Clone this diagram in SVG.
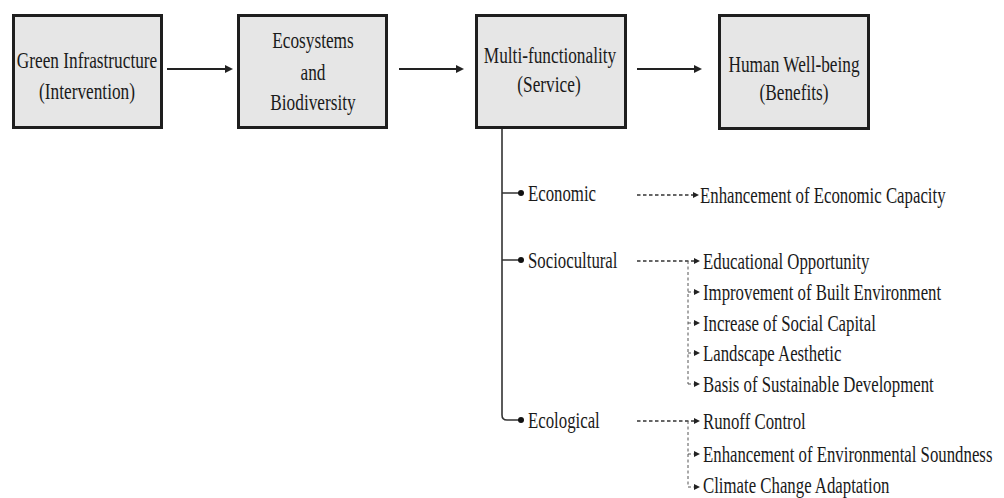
<svg xmlns="http://www.w3.org/2000/svg" width="1004" height="498" viewBox="0 0 1004 498">
<defs>
<style>
.box{fill:#e6e6e6;stroke:#1e1e1e;stroke-width:3}
.bt{font-family:"Liberation Serif","Times New Roman",serif;font-size:24px;fill:#1a1a1a;text-anchor:middle}
.lt{font-family:"Liberation Serif","Times New Roman",serif;font-size:23px;fill:#1a1a1a}
.solid{stroke:#222;stroke-width:2;fill:none}
.tree{stroke:#333;stroke-width:1.6;fill:none}
.dash{stroke:#333;stroke-width:1.3;fill:none;stroke-dasharray:3.5 2.5}
.dashv{stroke:#555;stroke-width:1;fill:none;stroke-dasharray:3 2.5}
</style>
<marker id="ah" markerUnits="userSpaceOnUse" markerWidth="9" markerHeight="8" refX="0" refY="4" orient="auto" overflow="visible">
<path d="M0,0 L8,4 L0,8 z" fill="#222"/>
</marker>
<marker id="sh" markerUnits="userSpaceOnUse" markerWidth="7" markerHeight="6" refX="0" refY="3" orient="auto" overflow="visible">
<path d="M0,0 L6,3 L0,6 z" fill="#222"/>
</marker>
</defs>
<rect width="1004" height="498" fill="#ffffff"/>

<g id="connectors">
<line class="solid" x1="167" y1="69" x2="225" y2="69" marker-end="url(#ah)"/>
<line class="solid" x1="399" y1="69" x2="456" y2="69" marker-end="url(#ah)"/>
<line class="solid" x1="637" y1="69" x2="694" y2="69" marker-end="url(#ah)"/>
<path class="tree" d="M502,129 V415 Q502,420 507,420 H519 M502,193 H519 M502,260 H519"/>
<circle cx="521" cy="193" r="3" fill="#111"/>
<circle cx="521" cy="260" r="3" fill="#111"/>
<circle cx="521" cy="420" r="3" fill="#111"/>
<line class="dash" x1="637" y1="195" x2="693" y2="195" marker-end="url(#sh)"/>
<line class="dash" x1="637" y1="261" x2="694" y2="261" marker-end="url(#sh)"/>
<path class="dashv" d="M688,261 V384 M688,292 H694 M688,323 H694 M688,353 H694 M688,384 H694"/>
<line class="dash" x1="637" y1="421" x2="694" y2="421" marker-end="url(#sh)"/>
<path class="dashv" d="M688,421 V487 M688,454 H694 M688,487 H694"/>
<g fill="#222">
<path d="M694,289 L700,292 L694,295 z"/>
<path d="M694,320 L700,323 L694,326 z"/>
<path d="M694,350 L700,353 L694,356 z"/>
<path d="M694,381 L700,384 L694,387 z"/>
<path d="M694,451 L700,454 L694,457 z"/>
<path d="M694,484 L700,487 L694,490 z"/>
</g>
</g>

<g id="node-green-infrastructure">
<rect class="box" x="13.5" y="15.5" width="148" height="112"/>
<text class="bt" transform="translate(87,68) scale(0.72,1)">Green Infrastructure</text>
<text class="bt" transform="translate(87,99) scale(0.72,1)">(Intervention)</text>
</g>
<g id="node-ecosystems">
<rect class="box" x="238.5" y="15.5" width="148" height="112"/>
<text class="bt" transform="translate(313,48) scale(0.72,1)">Ecosystems</text>
<text class="bt" transform="translate(313,80) scale(0.72,1)">and</text>
<text class="bt" transform="translate(313,110) scale(0.72,1)">Biodiversity</text>
</g>
<g id="node-multifunctionality">
<rect class="box" x="476.5" y="15.5" width="149" height="112"/>
<text class="bt" transform="translate(550,63) scale(0.72,1)">Multi-functionality</text>
<text class="bt" transform="translate(549,92) scale(0.72,1)">(Service)</text>
</g>
<g id="node-human-wellbeing">
<rect class="box" x="719.5" y="15.5" width="149" height="113"/>
<text class="bt" transform="translate(794,72) scale(0.72,1)">Human Well-being</text>
<text class="bt" transform="translate(794,100) scale(0.72,1)">(Benefits)</text>
</g>

<g id="node-economic">
<text class="lt" transform="translate(528,201) scale(0.73,1)">Economic</text>
</g>
<g id="node-sociocultural">
<text class="lt" transform="translate(528,268) scale(0.73,1)">Sociocultural</text>
</g>
<g id="node-ecological">
<text class="lt" transform="translate(528,428) scale(0.73,1)">Ecological</text>
</g>

<g id="node-economic-capacity">
<text class="lt" transform="translate(700,203) scale(0.73,1)">Enhancement of Economic Capacity</text>
</g>
<g id="node-educational">
<text class="lt" transform="translate(703,269) scale(0.73,1)">Educational Opportunity</text>
</g>
<g id="node-built-environment">
<text class="lt" transform="translate(703,300) scale(0.73,1)">Improvement of Built Environment</text>
</g>
<g id="node-social-capital">
<text class="lt" transform="translate(703,331) scale(0.73,1)">Increase of Social Capital</text>
</g>
<g id="node-landscape">
<text class="lt" transform="translate(703,361) scale(0.73,1)">Landscape Aesthetic</text>
</g>
<g id="node-sustainable">
<text class="lt" transform="translate(703,392) scale(0.73,1)">Basis of Sustainable Development</text>
</g>
<g id="node-runoff">
<text class="lt" transform="translate(703,429) scale(0.73,1)">Runoff Control</text>
</g>
<g id="node-environmental-soundness">
<text class="lt" transform="translate(703,462) scale(0.73,1)">Enhancement of Environmental Soundness</text>
</g>
<g id="node-climate">
<text class="lt" transform="translate(703,493) scale(0.73,1)">Climate Change Adaptation</text>
</g>
</svg>
